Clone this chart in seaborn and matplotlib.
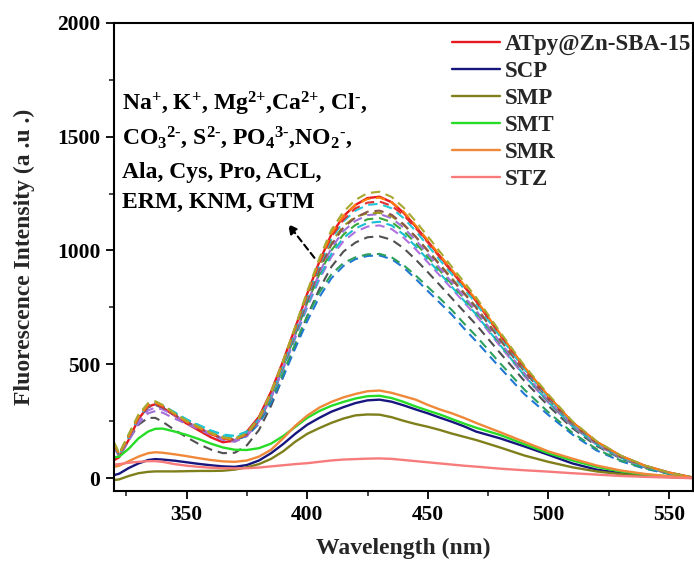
import numpy as np
import pandas as pd
import matplotlib
matplotlib.use("Agg")
import matplotlib.pyplot as plt
import seaborn as sns
from matplotlib.lines import Line2D
from matplotlib.ticker import MultipleLocator

# ---------------- data ----------------
wavelength = [320, 322, 326, 330, 334, 337, 340, 345, 350, 355, 360, 365, 370, 375,
              380, 385, 390, 395, 400, 405, 410, 415, 420, 425, 430, 435, 440, 445,
              450, 455, 460, 465, 470, 480, 490, 500, 510, 520, 530, 540, 550, 560]

atpy = [80, 92, 170, 260, 315, 325, 310, 275, 240, 210, 180, 158, 165, 205,
        270, 380, 515, 660, 810, 950, 1070, 1150, 1200, 1230, 1236, 1212, 1165, 1105,
        1040, 975, 910, 845, 780, 630, 485, 360, 245, 160, 98, 55, 25, 3]
scp = [14, 20, 45, 65, 80, 84, 82, 77, 70, 63, 57, 52, 50, 58,
       78, 110, 150, 195, 235, 265, 292, 312, 330, 342, 345, 336, 320, 302,
       285, 266, 248, 228, 205, 175, 140, 103, 65, 38, 22, 13, 6, 2]
smp = [-8, -5, 10, 22, 28, 30, 30, 30, 31, 32, 32, 33, 38, 48,
       62, 85, 118, 160, 195, 220, 243, 262, 276, 280, 279, 268, 252, 238,
       226, 212, 196, 182, 168, 135, 100, 72, 48, 30, 18, 10, 5, 1]
smt = [92, 95, 130, 175, 205, 217, 218, 205, 190, 172, 152, 135, 125, 124,
       132, 152, 185, 225, 265, 295, 318, 335, 350, 360, 362, 352, 335, 315,
       297, 280, 260, 240, 222, 190, 150, 110, 78, 50, 30, 17, 8, 2]
smr = [50, 55, 75, 95, 110, 114, 112, 105, 97, 88, 80, 74, 72, 78,
       95, 125, 175, 230, 275, 310, 335, 355, 370, 382, 385, 375, 360, 345,
       322, 302, 285, 265, 243, 202, 160, 118, 86, 56, 34, 19, 9, 3]
stz = [60, 62, 68, 72, 75, 75, 72, 62, 55, 50, 46, 44, 43, 44,
       47, 52, 57, 62, 66, 72, 78, 82, 84, 86, 87, 85, 80, 75,
       70, 65, 60, 55, 51, 42, 35, 29, 22, 16, 10, 6, 3, 0]

# interferent spectra (dashed)
int_olive = [155, 110, 195, 280, 330, 338, 322, 285, 252, 226, 200, 180, 172, 198,
             265, 378, 515, 665, 820, 965, 1090, 1170, 1222, 1252, 1258, 1235, 1188, 1128,
             1062, 995, 928, 862, 795, 642, 495, 368, 250, 163, 100, 56, 25, 3]
int_orange = [150, 105, 185, 270, 322, 332, 318, 282, 248, 222, 196, 176, 170, 196,
              262, 375, 512, 662, 815, 955, 1075, 1152, 1200, 1226, 1232, 1212, 1170, 1110,
              1045, 980, 915, 850, 785, 635, 490, 362, 247, 161, 99, 55, 25, 3]
int_red = [148, 104, 182, 266, 318, 328, 314, 280, 246, 220, 194, 174, 168, 194,
           260, 372, 508, 655, 805, 942, 1060, 1135, 1185, 1210, 1215, 1196, 1155, 1098,
           1035, 970, 906, 842, 778, 630, 486, 360, 246, 160, 98, 55, 25, 3]
int_cyan = [145, 100, 180, 268, 318, 330, 320, 290, 258, 232, 208, 188, 180, 200,
            258, 362, 495, 645, 795, 935, 1050, 1128, 1175, 1200, 1205, 1185, 1142, 1085,
            1022, 958, 895, 832, 768, 622, 480, 355, 243, 158, 97, 54, 24, 3]
int_brown = [140, 100, 178, 262, 312, 322, 310, 278, 246, 220, 195, 175, 168, 192,
             255, 360, 490, 635, 780, 915, 1025, 1100, 1145, 1170, 1175, 1157, 1115, 1060,
             998, 936, 873, 812, 750, 607, 470, 348, 238, 155, 95, 53, 24, 3]
int_olive2 = [150, 106, 190, 275, 326, 335, 320, 285, 252, 226, 200, 182, 175, 200,
              265, 372, 505, 650, 795, 928, 1035, 1108, 1148, 1163, 1165, 1150, 1112, 1060,
              1000, 940, 878, 815, 752, 612, 475, 352, 241, 157, 96, 54, 24, 3]
int_purple = [135, 95, 165, 240, 285, 295, 288, 262, 238, 215, 190, 168, 160, 185,
              250, 355, 485, 628, 770, 900, 1010, 1085, 1130, 1155, 1160, 1142, 1100, 1045,
              985, 922, 860, 798, 737, 598, 462, 342, 234, 152, 93, 52, 23, 3]
int_green = [150, 105, 188, 272, 322, 332, 318, 284, 250, 224, 198, 178, 172, 196,
             258, 362, 490, 630, 770, 895, 1000, 1070, 1112, 1137, 1142, 1125, 1085, 1032,
             972, 912, 851, 790, 730, 592, 458, 338, 231, 150, 92, 51, 23, 3]
int_cyan2 = [142, 100, 182, 266, 316, 328, 318, 288, 258, 234, 210, 192, 186, 205,
             260, 358, 482, 620, 758, 882, 985, 1055, 1097, 1121, 1126, 1110, 1070, 1018,
             960, 900, 840, 780, 720, 585, 452, 334, 228, 148, 90, 50, 22, 3]
int_purple2 = [138, 98, 172, 250, 298, 310, 302, 275, 248, 222, 196, 175, 168, 190,
               252, 352, 478, 615, 750, 872, 972, 1040, 1082, 1105, 1110, 1094, 1056, 1005,
               948, 890, 832, 773, 714, 580, 449, 332, 227, 147, 90, 50, 22, 3]
int_gray = [140, 100, 170, 235, 265, 265, 248, 212, 180, 150, 126, 110, 112, 145,
            212, 318, 445, 580, 712, 830, 928, 995, 1035, 1058, 1062, 1047, 1010, 960,
            905, 848, 790, 732, 675, 550, 428, 318, 220, 142, 87, 48, 21, 3]
int_green2 = [148, 104, 184, 268, 318, 328, 315, 282, 250, 224, 198, 178, 170, 190,
              250, 345, 462, 590, 712, 815, 895, 945, 970, 983, 985, 970, 935, 890,
              840, 790, 738, 680, 625, 505, 390, 290, 200, 128, 78, 44, 20, 3]
int_blue = [145, 100, 180, 262, 312, 322, 310, 278, 246, 220, 195, 175, 168, 185,
            240, 330, 445, 570, 690, 795, 878, 932, 962, 976, 978, 962, 925, 875,
            822, 770, 718, 658, 602, 485, 370, 278, 192, 122, 75, 42, 19, 3]

solid_names = ["ATpy@Zn-SBA-15", "SCP", "SMP", "SMT", "SMR", "STZ"]
solid_values = [atpy, scp, smp, smt, smr, stz]
solid_colors = ["#e8191f", "#16167e", "#7f7f1c", "#27dc27", "#f0883a", "#f77b7b"]

dashed_values = [int_gray, int_blue, int_green2, int_purple2, int_cyan2, int_green,
                 int_purple, int_olive2, int_brown, int_cyan, int_red, int_orange, int_olive]
dashed_colors = ["#505050", "#1f77d4", "#2ca05c", "#b070e0", "#17bfcf", "#3aa83a",
                 "#a070d8", "#9a9a20", "#8c564b", "#22c8d8", "#e03030", "#ff7f0e", "#a8a830"]

# ---------------- style ----------------
sns.set_theme(style="ticks")
plt.rcParams["font.family"] = ["Liberation Serif", "DejaVu Serif"]
plt.rcParams["font.weight"] = "bold"
plt.rcParams["axes.labelweight"] = "bold"
plt.rcParams["mathtext.fontset"] = "custom"
plt.rcParams["mathtext.rm"] = "Liberation Serif:bold"
plt.rcParams["mathtext.it"] = "Liberation Serif:bold"
plt.rcParams["mathtext.bf"] = "Liberation Serif:bold"

fig = plt.figure(figsize=(6.94, 5.65), dpi=100)
ax = fig.add_axes([0.1648, 0.1310, 0.8337, 0.8288])

# solid red first, then dashed interferents, then remaining solids
sns.lineplot(x=wavelength, y=atpy, ax=ax, color=solid_colors[0], linewidth=1.7,
             legend=False, sort=False)
for vals, col in zip(dashed_values, dashed_colors):
    sns.lineplot(x=wavelength, y=vals, ax=ax, color=col, linewidth=1.5,
                 legend=False, sort=False, dashes=False)
    ax.lines[-1].set_dashes((4.5, 2.8))
for vals, col in zip(solid_values[1:], solid_colors[1:]):
    sns.lineplot(x=wavelength, y=vals, ax=ax, color=col, linewidth=1.7,
                 legend=False, sort=False)

ax.set_xlim(320, 560)
ax.set_ylim(-56, 2000)
ax.xaxis.set_major_locator(MultipleLocator(50))
ax.xaxis.set_minor_locator(MultipleLocator(25))
ax.yaxis.set_major_locator(MultipleLocator(500))
ax.yaxis.set_minor_locator(MultipleLocator(250))
ax.tick_params(axis="both", which="major", direction="out", length=6, width=1.3,
               labelsize=15.5, pad=4, colors="black")
ax.tick_params(axis="both", which="minor", direction="out", length=3.5, width=1.2)
ax.tick_params(top=False, right=False)
for lab in ax.get_xticklabels() + ax.get_yticklabels():
    lab.set_fontweight("bold")
for sp in ax.spines.values():
    sp.set_visible(True)
    sp.set_linewidth(1.5)
    sp.set_color("black")

ax.set_xlabel("Wavelength (nm)", fontsize=17, fontweight="bold")
ax.set_ylabel("Fluorescence Intensity (a .u .)", fontsize=17, fontweight="bold")
ax.xaxis.set_label_coords(0.5, -0.100)
ax.yaxis.set_label_coords(-0.137, 0.5)

# legend with solid series only
handles = [Line2D([0], [0], color=c, lw=1.7) for c in solid_colors]
leg = ax.legend(handles, solid_names, loc="upper right", bbox_to_anchor=(1.017, 1.0),
                frameon=False, prop={"family": "Liberation Serif", "weight": "bold", "size": 16.5},
                handlelength=2.1, handletextpad=0.2, labelspacing=0.26, borderaxespad=0.1)

# annotation block
lines_txt = [r"Na$^{\text{+}}$, K$^{\text{+}}$, Mg$^{\text{2+}}$,Ca$^{\text{2+}}$, Cl$^{\text{-}}$,",
             r"CO$_{3}$$^{\text{2-}}$, S$^{\text{2-}}$, PO$_{4}$$^{\text{3-}}$,NO$_{2}$$^{\text{-}}$,",
             "Ala, Cys, Pro, ACL,",
             "ERM, KNM, GTM"]
baselines_px = [110, 144, 178, 208]
for t, b in zip(lines_txt, baselines_px):
    ax.text(0.013, (491 - b) / 468.3, t, transform=ax.transAxes, fontsize=17,
            fontweight="bold", ha="left", va="baseline", color="black")

ax.annotate("", xy=(391.3, 1126), xytext=(403.7, 958),
            arrowprops=dict(arrowstyle="-|>", color="black", lw=1.5,
                            linestyle=(0, (3, 2)), mutation_scale=14))

fig.savefig("out.png", dpi=100)
